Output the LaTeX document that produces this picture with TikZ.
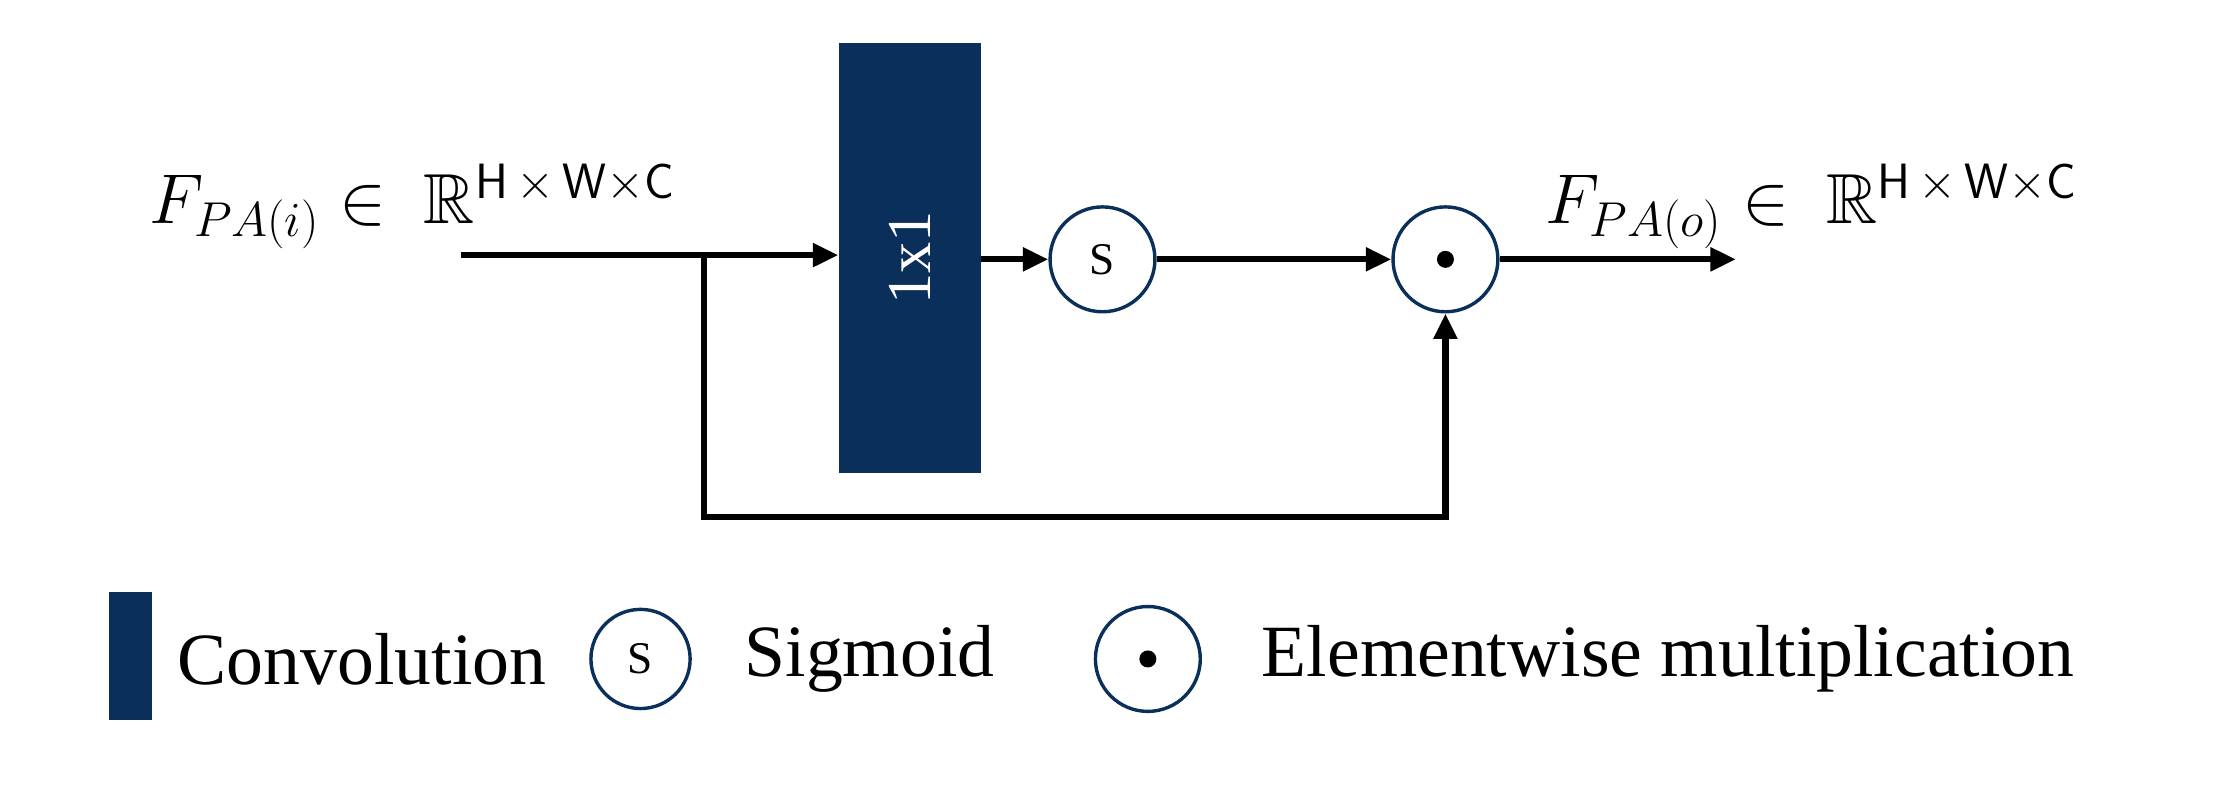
\documentclass[tikz,border=0pt]{standalone}
\usepackage{amssymb}
\usepackage{fontspec}
\setmainfont{Liberation Serif}
\usetikzlibrary{arrows.meta}
\definecolor{navy}{HTML}{0B2F5B}
\begin{document}
\begin{tikzpicture}[x=0.5pt,y=-0.5pt,
  arr/.style={line width=2.2pt,-{Triangle[length=9pt,width=8pt]}},
  circ/.style={circle,draw=navy,line width=1.2pt,minimum size=37pt,inner sep=0pt,font=\fontsize{16}{18}\selectfont},
  conv/.style={fill=navy,draw=none,inner sep=0pt},
  lab/.style={font=\fontsize{26}{31}\selectfont,anchor=west,inner sep=0pt},
  mlab/.style={font=\fontsize{25}{30}\selectfont,anchor=base west,inner sep=0pt}]
\useasboundingbox (0,0) rectangle (1568,564);
\node[mlab] (tin) at (105,158) {$F_{PA(i)}\in\ \mathbb{R}^{\mathsf{H}\,\times\,\mathsf{W}\times\mathsf{C}}$};
\node[mlab] (tout) at (1090,158) {$F_{PA(o)}\in\ \mathbb{R}^{\mathsf{H}\,\times\,\mathsf{W}\times\mathsf{C}}$};
\node[conv,minimum width=50pt,minimum height=152pt] (c) at (642,182) {};
\node[rotate=90,text=white,font=\fontsize{22}{26}\selectfont] (cl) at (642,182) {1x1};
\node[circ] (s) at (778,183) {S};
\node[circ] (m) at (1020,183) {};
\fill[black] (m) circle (3pt);
\coordinate (in) at (325,180);
\coordinate (b) at (497,180);
\coordinate (bb) at (497,365);
\coordinate (out) at (1225,183);
\draw[arr] (in) -- (c.west|-in);
\draw[arr] (c.east|-s) -- (s.west);
\draw[arr] (s) -- (m);
\draw[arr] (m) -- (out);
\draw[arr] (b) -- (bb) -| (m.south);
% legend
\node[conv,minimum width=15pt,minimum height=45pt] (lc) at (92,463) {};
\node[lab] (lt1) at (125,465) {Convolution};
\node[circ,minimum size=35pt] (ls) at (452,465) {S};
\node[lab] (lt2) at (525,465) {Sigmoid};
\node[circ] (lm) at (810,465) {};
\fill[black] (lm) circle (3pt);
\node[lab] (lt3) at (890,465) {Elementwise multiplication};
\end{tikzpicture}
\end{document}
